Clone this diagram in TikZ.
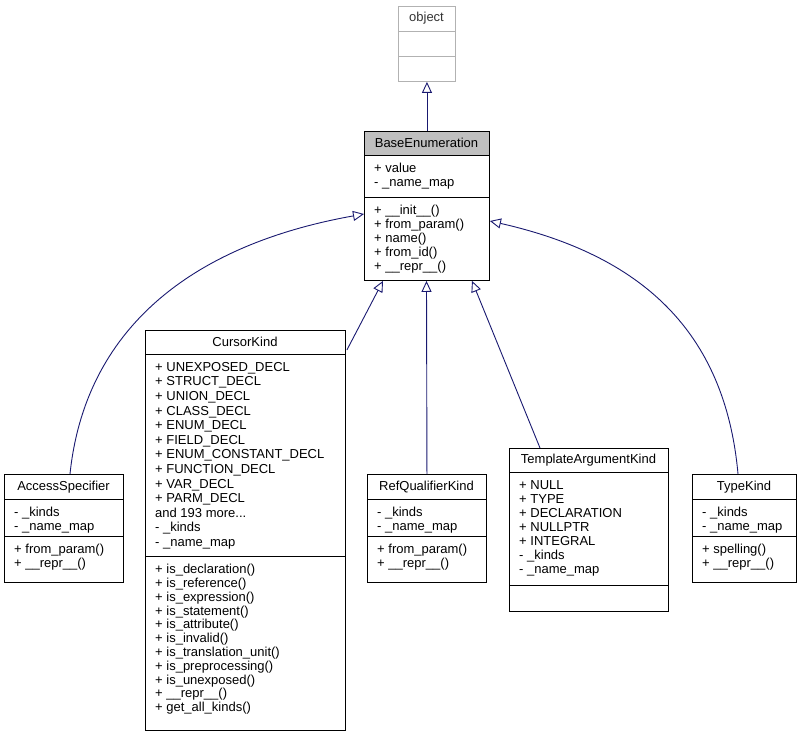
\documentclass[tikz,border=0pt]{standalone}
\usepackage{fontspec}
\setmainfont{Liberation Sans}
\usetikzlibrary{arrows.meta,calc}
\definecolor{navy}{HTML}{191970}
\tikzset{
  boxln/.style={draw=black,line width=0.9pt},
  txt/.style={inner sep=0pt,anchor=north west,align=left,font=\fontsize{13}{14}\selectfont},
  ttl/.style={inner sep=0pt,font=\fontsize{13}{14}\selectfont},
  inh/.style={draw=navy,line width=0.9pt,-{Triangle[open,length=11pt,width=10pt]}}
}
% \umlbox{name}{x1}{x2}{ytop}{ydiv1}{ydiv2}{ybot}{style}
\newcommand{\umlbox}[8]{%
  \node[#8,minimum width=#3pt-#2pt,minimum height=#7pt-#4pt,anchor=north west,inner sep=0pt] (#1) at (#2,-#4) {};
  \draw[#8] (#2,-#5) -- (#3,-#5) (#2,-#6) -- (#3,-#6);
}
\begin{document}
\begin{tikzpicture}[x=1pt,y=1pt]
\useasboundingbox (0,0) rectangle (800,-735);
% object
\umlbox{obj}{398}{455}{6}{31}{56}{81}{draw=gray!60,line width=0.9pt}
\node[ttl,text=black!80] (objt) at (426.5,-18) {object};
% BaseEnumeration
\fill[gray!50] (364,-131) rectangle (489,-155);
\umlbox{base}{364}{489}{131}{155}{197}{280}{boxln}
\node[ttl] (baset) at (426.5,-143) {BaseEnumeration};
\node[txt] (basea) at (374,-163) {+ value\\- \_name\_map};
\node[txt] (basem) at (374,-205) {+ \_\_init\_\_()\\+ from\_param()\\+ name()\\+ from\_id()\\+ \_\_repr\_\_()};
% AccessSpecifier
\umlbox{acc}{4}{123}{474}{499}{536}{582}{boxln}
\node[ttl] (acct) at (63.5,-487) {AccessSpecifier};
\node[txt] (acca) at (14,-507) {- \_kinds\\- \_name\_map};
\node[txt] (accm) at (14,-544) {+ from\_param()\\+ \_\_repr\_\_()};
% CursorKind
\umlbox{cur}{145}{345}{330}{354}{556}{730}{boxln}
\node[ttl] (curt) at (245,-342) {CursorKind};
\node[txt,font=\fontsize{13}{14.6}\selectfont] (cura) at (155,-362) {+ UNEXPOSED\_DECL\\+ STRUCT\_DECL\\+ UNION\_DECL\\+ CLASS\_DECL\\+ ENUM\_DECL\\+ FIELD\_DECL\\+ ENUM\_CONSTANT\_DECL\\+ FUNCTION\_DECL\\+ VAR\_DECL\\+ PARM\_DECL\\and 193 more...\\- \_kinds\\- \_name\_map};
\node[txt,font=\fontsize{13}{13.8}\selectfont] (curm) at (155,-564) {+ is\_declaration()\\+ is\_reference()\\+ is\_expression()\\+ is\_statement()\\+ is\_attribute()\\+ is\_invalid()\\+ is\_translation\_unit()\\+ is\_preprocessing()\\+ is\_unexposed()\\+ \_\_repr\_\_()\\+ get\_all\_kinds()};
% RefQualifierKind
\umlbox{ref}{367}{486}{474}{499}{536}{582}{boxln}
\node[ttl] (reft) at (426.5,-487) {RefQualifierKind};
\node[txt] (refa) at (377,-507) {- \_kinds\\- \_name\_map};
\node[txt] (refm) at (377,-544) {+ from\_param()\\+ \_\_repr\_\_()};
% TemplateArgumentKind
\umlbox{tmp}{509}{668}{448}{472}{585}{611}{boxln}
\node[ttl] (tmpt) at (588.5,-460) {TemplateArgumentKind};
\node[txt] (tmpa) at (519,-480) {+ NULL\\+ TYPE\\+ DECLARATION\\+ NULLPTR\\+ INTEGRAL\\- \_kinds\\- \_name\_map};
% TypeKind
\umlbox{typ}{692}{796}{474}{499}{536}{582}{boxln}
\node[ttl] (typt) at (744,-487) {TypeKind};
\node[txt] (typa) at (702,-507) {- \_kinds\\- \_name\_map};
\node[txt] (typm) at (702,-544) {+ spelling()\\+ \_\_repr\_\_()};
% connectors
\draw[inh] (base.north) -- (obj.south);
\draw[inh] ($(acc.north west)+(66,0)$) .. controls (85,-330) and (190,-245) .. ($(base.north west)+(0,-83)$);
\draw[inh] ($(cur.north east)+(1,-20)$) -- ($(base.south west)+(19,0)$);
\draw[inh] (ref.north) -- ($(base.south west)+(62.5,0)$);
\draw[inh] ($(tmp.north west)+(31,0)$) -- ($(base.south west)+(108,0)$);
\draw[inh] ($(typ.north west)+(46,0)$) .. controls (725,-330) and (640,-255) .. ($(base.north east)+(0,-90)$);
\end{tikzpicture}
\end{document}
